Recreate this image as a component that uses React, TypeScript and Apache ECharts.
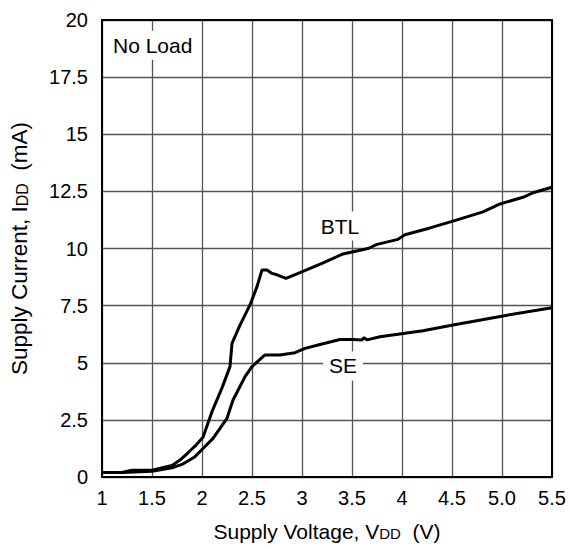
import React, { useEffect, useRef } from "react";
import * as echarts from "echarts";

const xTicks = [1, 1.5, 2, 2.5, 3, 3.5, 4, 4.5, 5, 5.5];
const yTicks = [0, 2.5, 5, 7.5, 10, 12.5, 15, 17.5, 20];

const btlV = [1.0, 1.2, 1.3, 1.5, 1.7, 1.78, 1.86, 1.93, 2.01, 2.1, 2.2, 2.28, 2.3, 2.38, 2.48, 2.55, 2.6, 2.65, 2.7, 2.75, 2.84, 2.98, 3.2, 3.41, 3.66, 3.75, 3.96, 4.03, 4.28, 4.51, 4.81, 4.98, 5.21, 5.31, 5.5];
const btlI = [0.2, 0.2, 0.3, 0.3, 0.5, 0.74, 1.06, 1.35, 1.74, 2.86, 3.9, 4.83, 5.85, 6.65, 7.53, 8.33, 9.06, 9.06, 8.91, 8.85, 8.69, 8.94, 9.35, 9.76, 10.0, 10.18, 10.4, 10.6, 10.9, 11.2, 11.6, 11.95, 12.24, 12.44, 12.68];

const seV = [1.0, 1.2, 1.5, 1.7, 1.8, 1.93, 2.01, 2.11, 2.25, 2.31, 2.43, 2.5, 2.63, 2.78, 2.93, 3.03, 3.18, 3.38, 3.51, 3.6, 3.62, 3.65, 3.78, 4.21, 4.51, 5.01, 5.5];
const seI = [0.2, 0.2, 0.25, 0.4, 0.55, 0.89, 1.25, 1.69, 2.57, 3.37, 4.39, 4.83, 5.34, 5.34, 5.44, 5.63, 5.8, 6.02, 6.02, 6.0, 6.1, 6.0, 6.14, 6.4, 6.65, 7.05, 7.41];

const labels = [
  { text: "BTL", v: 3.38, i: 10.98, align: "center" },
  { text: "SE", v: 3.41, i: 4.86, align: "center" },
  { text: "No Load", v: 1.05, i: 18.9, align: "left" },
];

const FONT = "Liberation Sans, Arial, sans-serif";

export default function App() {
  const ref = useRef<HTMLDivElement>(null);
  useEffect(() => {
    if (!ref.current) return;
    const chart = echarts.init(ref.current, undefined, { renderer: "svg" });
    const line = (v: number[], i: number[]) => ({
      type: "line",
      data: v.map((x, k) => [x, i[k]]),
      showSymbol: false,
      symbol: "none",
      lineStyle: { color: "#000", width: 3 },
      z: 5,
    });
    const sub = { fontSize: 15, fontFamily: FONT, color: "#000", verticalAlign: "bottom", padding: [0, 0, 1, 0] };
    chart.setOption({
      animation: false,
      backgroundColor: "#fff",
      textStyle: { fontFamily: FONT },
      grid: { left: 102, right: 19, top: 20, bottom: 71, show: true, borderColor: "#000", borderWidth: 2, backgroundColor: "transparent", z: 10 },
      xAxis: {
        type: "value",
        min: xTicks[0],
        max: xTicks[xTicks.length - 1],
        interval: 0.5,
        axisLine: { show: true, lineStyle: { color: "#000", width: 2 } },
        axisTick: { show: false },
        splitLine: { show: true, lineStyle: { color: "#555", width: 1.3 } },
        axisLabel: {
          color: "#000",
          fontSize: 20,
          fontFamily: FONT,
          margin: 11,
          formatter: (v: number) => (v === 5 ? "5.0" : String(v)),
        },
        name: "Supply Voltage, V{s|DD}  (V)",
        nameLocation: "middle",
        nameGap: 44,
        nameTextStyle: { color: "#000", fontSize: 21, fontFamily: FONT, rich: { s: sub } },
      },
      yAxis: {
        type: "value",
        min: yTicks[0],
        max: yTicks[yTicks.length - 1],
        interval: 2.5,
        axisLine: { show: true, lineStyle: { color: "#000", width: 2 } },
        axisTick: { show: false },
        splitLine: { show: true, lineStyle: { color: "#555", width: 1.3 } },
        axisLabel: { color: "#000", fontSize: 20, fontFamily: FONT, margin: 14 },
        name: "Supply Current, I{s|DD}  (mA)",
        nameLocation: "middle",
        nameGap: 71,
        nameTextStyle: { color: "#000", fontSize: 22.5, fontFamily: FONT, rich: { s: { ...sub, fontSize: 16 } } },
      },
      series: [line(btlV, btlI), line(seV, seI)],
    });
    const graphic = labels.map((l) => {
      const [px, py] = chart.convertToPixel({ gridIndex: 0 }, [l.v, l.i]) as number[];
      return {
        type: "text",
        x: px,
        y: py,
        z: 20,
        style: {
          text: l.text,
          fontSize: 21,
          fontFamily: FONT,
          fill: "#000",
          align: l.align,
          verticalAlign: "middle",
          backgroundColor: "#fff",
          padding: [4, 6],
        },
      };
    });
    chart.setOption({ graphic });
    return () => chart.dispose();
  }, []);
  return <div ref={ref} style={{ width: 571, height: 548, position: "absolute", left: 0, top: 0 }} />;
}
